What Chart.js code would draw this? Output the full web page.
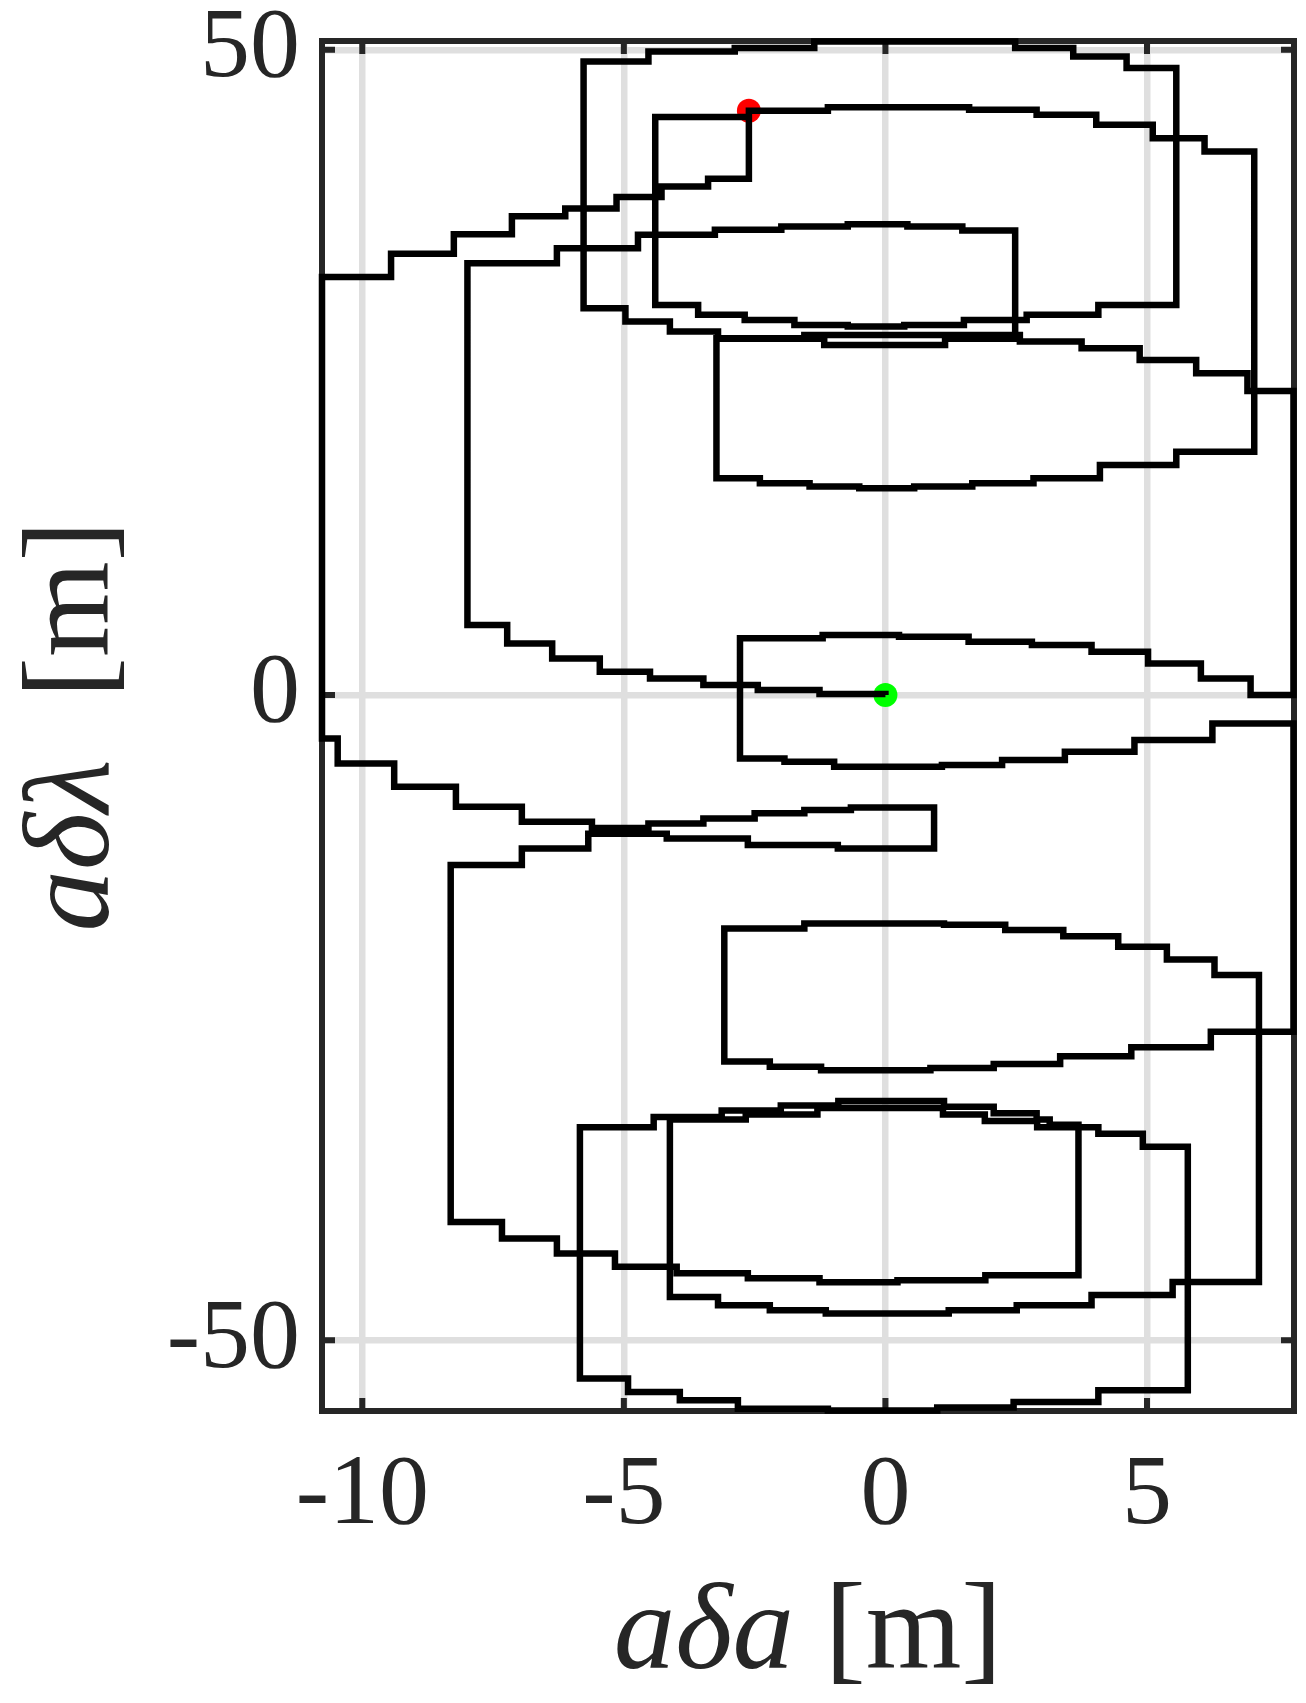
<!DOCTYPE html>
<html>
<head>
<meta charset="utf-8">
<title>Relative trajectory</title>
<script src="https://cdn.jsdelivr.net/npm/chart.js@4.4.1/dist/chart.umd.min.js"></script>
<style>
	html, body { margin: 0; padding: 0; background: #ffffff; }
	canvas { display: block; }
</style>
</head>
<body>
<canvas id="orbit" width="1306" height="1703"></canvas>
<script>
// ---------------------------------------- Data ----------------------------------------

const startPoint = [-2.61, 45.27];
const endPoint = [0, 0];

const xTicks = [-10, -5, 0, 5];
const yTicks = [-50, 0, 50];
const xLimits = [-10.77, 7.81];
const yLimits = [-55.48, 50.68];

// Trajectory vertices [a*da, a*dlambda]. Each vertex is reached by a move
// along a*da first, then a move along a*dlambda (stepped "before").
const legOne = [
	[-2.61, 40.0], [-3.39, 39.4], [-4.28, 38.6], [-5.14, 37.7], [-6.12, 37.1],
	[-7.14, 35.7], [-8.25, 34.2], [-9.45, 32.4], [-10.77, -3.36], [-10.47, -5.3],
	[-9.39, -7.1], [-8.21, -8.66], [-6.95, -9.82], [-5.61, -10.3], [-4.53, -9.95],
	[-3.48, -9.56], [-2.5, -9.17], [-1.55, -8.91], [-0.66, -8.71], [0.93, -11.89],
	[-0.91, -11.63], [-2.63, -11.11], [-4.18, -10.75], [-5.68, -11.89], [-6.95, -13.18],
	[-8.31, -40.83],
];

const legTwo = [
	[-7.33, -42.12], [-6.28, -43.28], [-5.17, -44.31], [-3.99, -44.8], [-2.63, -45.2],
	[-1.26, -45.5], [0.23, -45.35], [1.91, -44.96], [3.69, -33.3],
	[3.14, -32.9], [2.89, -32.4], [2.07, -31.9], [1.12, -31.45], [-0.9, -31.8],
	[-2.0, -32.2], [-3.13, -32.7], [-4.43, -33.5], [-5.84, -52.97],
	[-4.92, -54.0], [-3.93, -54.65], [-2.82, -55.3], [-1.1, -55.45], [0.99, -55.2],
	[2.45, -54.78], [4.07, -53.88], [5.78, -35.0],
	[4.92, -34.0], [4.07, -33.5], [2.9, -33.0], [1.9, -32.5], [1.1, -32.0],
	[-1.3, -32.5], [-2.67, -32.9], [-4.12, -46.64],
	[-3.2, -47.29], [-2.21, -47.67], [-1.14, -47.93], [1.21, -47.67], [2.51, -47.29],
	[3.94, -46.5], [5.49, -45.48], [7.14, -21.7],
];

const legThree = [
	[6.29, -20.5], [5.38, -19.5], [4.45, -18.7], [3.4, -18.2], [2.29, -17.8],
	[1.12, -17.7], [-1.55, -18.1], [-3.08, -28.4],
	[-2.21, -28.8], [-1.23, -29.07], [0.86, -28.9], [2.07, -28.6], [3.34, -28.0],
	[4.7, -27.3], [6.22, -26.1], [7.8, -2.2],
	[6.25, -3.49], [4.76, -4.39], [3.43, -5.04], [2.23, -5.43], [1.08, -5.56],
	[-0.98, -5.17], [-1.93, -4.91], [-2.78, 4.39],
	[-1.2, 4.65], [0.26, 4.52], [1.59, 4.13], [2.8, 3.88], [3.94, 3.36],
	[5.02, 2.45], [6.03, 1.29], [6.98, 0.0], [7.8, 23.55],
];

const legFour = [
	[6.92, 24.94], [5.94, 25.97], [4.86, 26.87], [3.75, 27.39], [2.57, 27.9],
	[-1.55, 27.65], [-3.23, 16.8],
	[-2.4, 16.41], [-1.45, 16.15], [-0.5, 16.02], [0.55, 16.15], [1.66, 16.41],
	[2.83, 16.8], [4.1, 17.83], [5.56, 18.86], [7.05, 42.12],
	[6.1, 43.15], [5.11, 44.19], [4.03, 44.96], [2.89, 45.35], [1.6, 45.55],
	[-1.1, 45.27], [-2.61, 44.8], [-4.4, 30.23],
	[-3.58, 29.46], [-2.69, 29.07], [-1.74, 28.68], [-0.72, 28.55], [0.36, 28.68],
	[1.5, 29.07], [2.7, 29.46], [4.07, 30.23], [5.56, 48.58],
	[4.61, 49.48], [3.59, 50.13], [2.48, 50.65], [-1.36, 50.13], [-2.88, 49.87],
	[-4.53, 49.1], [-5.77, 29.97],
	[-4.97, 28.94], [-4.12, 28.17], [-3.2, 27.6], [-1.17, 27.13], [1.14, 27.6],
	[2.48, 36.0],
	[1.47, 36.3], [0.42, 36.48], [-0.72, 36.3], [-1.99, 36.05], [-3.26, 35.66],
	[-4.73, 34.62], [-6.28, 33.46], [-7.99, 5.43],
];

const legFive = [
	[-7.23, 4.0], [-6.37, 2.84], [-5.46, 1.81], [-4.5, 1.29], [-3.48, 0.78],
	[-2.44, 0.39], [-1.26, 0.08], [0, 0],
];

const xTitleParts = [
	{ text: "a\u03b4a", italic: true },
	{ text: " [m]", italic: false },
];
const yTitleParts = [
	{ text: "a\u03b4\u03bb", italic: true },
	{ text: "  [m]", italic: false },
];

const toXY = (p) => ({ x: p[0], y: p[1] });
const trajectory = [startPoint, ...legOne, ...legTwo, ...legThree, ...legFour, ...legFive].map(toXY);

// ---------------------------------------- Plugins ----------------------------------------

const axisColor = "#262626";

const axesBox = {
	id: "axesBox",
	beforeDatasetsDraw(chart) {
		const { ctx, chartArea: a, scales } = chart;
		const tickLen = 13;
		ctx.save();
		ctx.strokeStyle = axisColor;
		ctx.lineWidth = 6;
		ctx.strokeRect(a.left, a.top, a.right - a.left, a.bottom - a.top);
		ctx.beginPath();
		for (const v of xTicks) {
			const px = scales.x.getPixelForValue(v);
			ctx.moveTo(px, a.bottom);
			ctx.lineTo(px, a.bottom - tickLen);
			ctx.moveTo(px, a.top);
			ctx.lineTo(px, a.top + tickLen);
		}
		for (const v of yTicks) {
			const py = scales.y.getPixelForValue(v);
			ctx.moveTo(a.left, py);
			ctx.lineTo(a.left + tickLen, py);
			ctx.moveTo(a.right, py);
			ctx.lineTo(a.right - tickLen, py);
		}
		ctx.stroke();
		ctx.restore();
	},
};

function drawTitle(ctx, parts, cx, baseline) {
	const size = 123;
	const fontOf = (p) => (p.italic ? "italic " : "") + size + "px 'Liberation Serif'";
	let total = 0;
	for (const p of parts) {
		ctx.font = fontOf(p);
		total += ctx.measureText(p.text).width;
	}
	let x = cx - total / 2;
	ctx.textBaseline = "alphabetic";
	ctx.textAlign = "left";
	for (const p of parts) {
		ctx.font = fontOf(p);
		ctx.fillText(p.text, x, baseline);
		x += ctx.measureText(p.text).width;
	}
}

const axisTitles = {
	id: "axisTitles",
	afterDraw(chart) {
		const { ctx, chartArea: a } = chart;
		ctx.save();
		ctx.fillStyle = axisColor;
		drawTitle(ctx, xTitleParts, (a.left + a.right) / 2, a.bottom + 257);
		ctx.translate(a.left - 214, (a.top + a.bottom) / 2);
		ctx.rotate(-Math.PI / 2);
		drawTitle(ctx, yTitleParts, 0, 0);
		ctx.restore();
	},
};

// ---------------------------------------- Trajectory Graph ----------------------------------------

const tickFont = { family: "'Liberation Serif'", size: 100 };

const chartOrbit = document.getElementById("orbit");

const graphOrbit = new Chart(chartOrbit, {
	type: "scatter",
	data: {
		datasets: [
			{
				label: "Trajectory",
				data: trajectory,
				showLine: true,
				stepped: "before",
				borderColor: "#000000",
				borderWidth: 6.5,
				borderJoinStyle: "miter",
				pointRadius: 0,
				clip: false,
				order: 0,
			},
			{
				label: "Start",
				data: [toXY(startPoint)],
				pointRadius: 12,
				pointBorderWidth: 0,
				backgroundColor: "#ff0000",
				clip: false,
				order: 1,
			},
			{
				label: "End",
				data: [toXY(endPoint)],
				pointRadius: 12,
				pointBorderWidth: 0,
				backgroundColor: "#00ff00",
				clip: false,
				order: 1,
			},
		],
	},
	options: {
		responsive: false,
		animation: false,
		devicePixelRatio: 1,
		layout: {
			padding: { top: 41, right: 8, bottom: 0, left: 0 },
		},
		plugins: {
			legend: { display: false },
			tooltip: { enabled: false },
		},
		scales: {
			x: {
				type: "linear",
				min: xLimits[0],
				max: xLimits[1],
				afterBuildTicks: (scale) => {
					scale.ticks = xTicks.map((v) => ({ value: v }));
				},
				afterFit: (scale) => {
					scale.height = 292;
					scale.paddingLeft = 0;
					scale.paddingRight = 0;
				},
				border: { display: false },
				grid: { color: "#dfdfdf", lineWidth: 6.5, drawTicks: false },
				ticks: {
					padding: 26,
					color: axisColor,
					font: tickFont,
					maxRotation: 0,
					callback: (v) => String(v),
				},
			},
			y: {
				type: "linear",
				min: yLimits[0],
				max: yLimits[1],
				afterBuildTicks: (scale) => {
					scale.ticks = yTicks.map((v) => ({ value: v }));
				},
				afterFit: (scale) => {
					scale.width = 322;
					scale.paddingTop = 0;
					scale.paddingBottom = 0;
				},
				border: { display: false },
				grid: { color: "#dfdfdf", lineWidth: 6.5, drawTicks: false },
				ticks: {
					padding: 22,
					color: axisColor,
					font: tickFont,
					callback: (v) => String(v),
				},
			},
		},
	},
	plugins: [axesBox, axisTitles],
});
</script>
</body>
</html>
